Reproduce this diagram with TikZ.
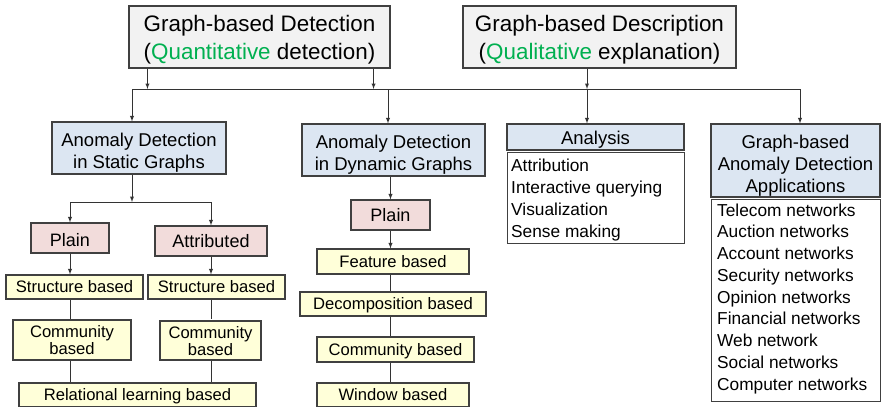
\documentclass[tikz,border=0pt]{standalone}
\usepackage{fontspec}
\setmainfont{Liberation Sans}
\usetikzlibrary{calc,positioning}
\definecolor{topgray}{HTML}{F2F2F2}
\definecolor{catblue}{HTML}{DCE6F2}
\definecolor{plainpink}{HTML}{F2DCDB}
\definecolor{methyellow}{HTML}{FFFFD9}
\definecolor{qgreen}{HTML}{00B050}
\newcommand{\stk}[1]{\begin{tabular}[t]{@{}c@{}}#1\end{tabular}}
\begin{document}
\begin{tikzpicture}[x=1pt,y=-1pt,
box/.style={draw=black!75,line width=1.1pt,align=center,inner sep=0pt},
topbox/.style={box,fill=topgray,font=\fontsize{22.4}{28}\selectfont,text height=0pt,text depth=10.4pt},
catbox/.style={box,fill=catblue,font=\fontsize{18.5}{22}\selectfont,text height=0pt,text depth=3pt},
kindbox/.style={box,fill=plainpink,font=\fontsize{18}{22}\selectfont,text height=12.6pt,text depth=0pt},
methbox/.style={box,fill=methyellow,font=\fontsize{16.6}{16}\selectfont,text height=11.6pt,text depth=0pt},
listbox/.style={box,fill=white},
listitem/.style={inner sep=0pt,anchor=base west,font=\fontsize{17.3}{21}\selectfont},
link/.style={draw=black!80,line width=0.9pt},
arr/.style={link,-latex}]
 \useasboundingbox (0,0) rectangle (881,407);
 % top level
 \node[topbox,minimum width=261,minimum height=62] (det) at (259.5,37)
  {\stk{Graph-based Detection\\(\textcolor{qgreen}{Quantitative} detection)}};
 \node[topbox,minimum width=273,minimum height=62] (desc) at (599.5,37)
  {\stk{Graph-based Description\\(\textcolor{qgreen}{Qualitative} explanation)}};
 % second level
 \node[catbox,minimum width=174,minimum height=52] (static) at (139,148) {\stk{Anomaly Detection\\in Static Graphs}};
 \node[catbox,minimum width=183,minimum height=52] (dynamic) at (393.5,150) {\stk{Anomaly Detection\\in Dynamic Graphs}};
 \node[catbox,minimum width=177,minimum height=26,text height=15pt,text depth=0pt] (analysis) at (595.5,137) {Analysis};
 \node[catbox,minimum width=169,minimum height=73,text depth=24pt] (apps) at (795.5,160.5) {\stk{Graph-based\\Anomaly Detection\\Applications}};
 \node[listbox,anchor=north west,minimum width=177,minimum height=91] (anlist) at (507,152) {};
 \node[listbox,anchor=north west,minimum width=169,minimum height=202] (aplist) at (711,199) {};
 \foreach \t [count=\i] in {Attribution,Interactive querying,Visualization,Sense making}
  \node[listitem] (an\i) at ($(anlist.north west)+(4,19+22*\i-22)$) {\t};
 \foreach \t [count=\i] in {Telecom networks,Auction networks,Account networks,Security networks,Opinion networks,Financial networks,Web network,Social networks,Computer networks}
  \node[listitem] (ap\i) at ($(aplist.north west)+(6,17+21.75*\i-21.75)$) {\t};
 % static graphs
 \node[kindbox,minimum width=78,minimum height=30,text height=16.6pt] (plainS) at (70,238) {Plain};
 \node[kindbox,minimum width=112,minimum height=30] (attrS) at (211,241) {Attributed};
 \node[methbox,minimum width=137,minimum height=24] (structA) at (74.5,287) {Structure based};
 \node[methbox,minimum width=137,minimum height=24] (structB) at (216.5,287) {Structure based};
 \node[methbox,minimum width=118,minimum height=40,text height=0pt,text depth=4.4pt] (commA) at (72,340) {\stk{Community\\based}};
 \node[methbox,minimum width=101,minimum height=39,text height=0pt,text depth=4.4pt] (commB) at (210.5,340.5) {\stk{Community\\based}};
 \node[methbox,minimum width=237,minimum height=24] (relat) at (137.5,395) {Relational learning based};
 % dynamic graphs
 \node[kindbox,minimum width=79,minimum height=30] (plainD) at (390.5,215) {Plain};
 \node[methbox,minimum width=152,minimum height=25] (feat) at (393,261.5) {Feature based};
 \node[methbox,minimum width=186,minimum height=24] (decomp) at (393,304) {Decomposition based};
 \node[methbox,minimum width=157,minimum height=25] (commD) at (395.5,349.5) {Community based};
 \node[methbox,minimum width=152,minimum height=24] (window) at (393,395) {Window based};
 % connectors
 \coordinate (busL) at (132,89);
 \coordinate (detL) at ([xshift=19]det.south west);
 \coordinate (detR) at ([xshift=-17]det.south east);
 \coordinate (descM) at ([xshift=-12.5]desc.south);
 \foreach \n/\s in {static/-7,dynamic/-5.5,analysis/-8.5,apps/4.5}
  \coordinate (d\n) at ([xshift=\s]\n.north);
 \draw[link] (busL) -- (dapps |- busL);
 \foreach \n in {detL,detR,descM}
  \draw[arr] (\n) -- (\n |- busL);
 \foreach \n in {static,dynamic,analysis,apps}
  \draw[arr] (d\n |- busL) -- (d\n);
 \coordinate (bus2) at (132,202);
 \draw[arr] (bus2 |- static.south) -- (bus2);
 \draw[link] (plainS.north |- bus2) -- (attrS.north |- bus2);
 \foreach \n/\m in {plainS/structA,attrS/structB}
 {\draw[arr] (\n.north |- bus2) -- (\n.north);
  \draw[arr] (\n.south) -- (\n.south |- \m.north);}
 \foreach \n in {plainS,attrS}
 {\draw[link] (\n.south |- structA.south) -- (\n.south |- commA.north);
  \draw[link] (\n.south |- commA.south) -- (\n.south |- relat.north);}
 \draw[arr] (plainD.north |- dynamic.south) -- (plainD.north);
 \draw[arr] (plainD.south) -- (plainD.south |- feat.north);
 \foreach \a/\b in {feat/decomp,decomp/commD,commD/window}
  \draw[link] (plainD.south |- \a.south) -- (plainD.south |- \b.north);
\end{tikzpicture}
\end{document}
